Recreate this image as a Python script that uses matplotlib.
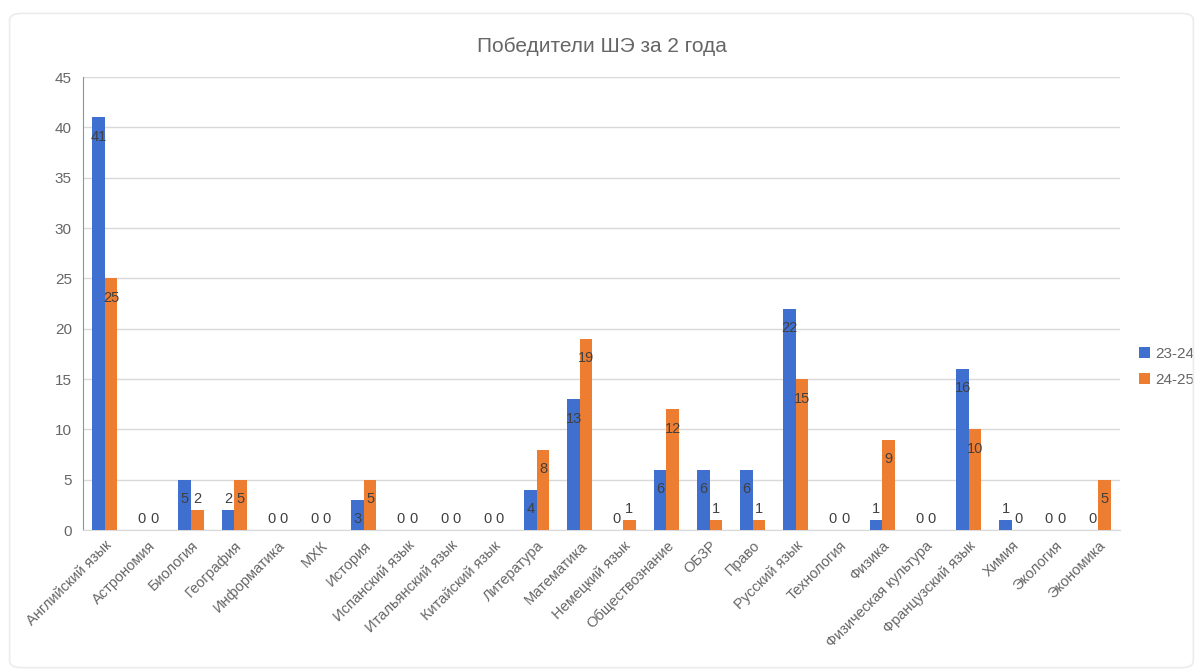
import matplotlib

matplotlib.use("Agg")
import matplotlib.pyplot as plt
from matplotlib.patches import FancyBboxPatch
import numpy as np

# --- data ---
SUBJECTS = [
    "Английский язык", "Астрономия", "Биология", "География", "Информатика",
    "МХК", "История", "Испанский язык", "Итальянский язык", "Китайский язык",
    "Литература", "Математика", "Немецкий язык", "Обществознание", "ОБЗР",
    "Право", "Русский язык", "Технология", "Физика", "Физическая культура",
    "Французский язык", "Химия", "Экология", "Экономика",
]
Y2324 = [41, 0, 5, 2, 0, 0, 3, 0, 0, 0, 4, 13, 0, 6, 6, 6, 22, 0, 1, 0, 16, 1, 0, 0]
Y2425 = [25, 0, 2, 5, 0, 0, 5, 0, 0, 0, 8, 19, 1, 12, 1, 1, 15, 0, 9, 0, 10, 0, 0, 5]
SERIES = ["23-24", "24-25"]
YTICKS = [0, 5, 10, 15, 20, 25, 30, 35, 40, 45]

BLUE = "#3f6fcf"
ORANGE = "#ed7d31"
TEXT = "#666666"
LABEL = "#404040"
GRID = "#d9d9d9"

plt.rcParams["font.family"] = ["Liberation Sans", "DejaVu Sans"]
fig = plt.figure(figsize=(12.03, 6.71), dpi=100, facecolor="white")

# faint chart-area frame
fig.patches.append(FancyBboxPatch((0.008, 0.005), 0.984, 0.975,
                                  boxstyle="round,pad=0,rounding_size=0.01",
                                  transform=fig.transFigure, facecolor="none",
                                  edgecolor="#ececec", linewidth=1.2))

ax = fig.add_axes([0.069, 0.210, 0.862, 0.675])

x = np.arange(len(SUBJECTS))
w = 0.29
b1 = ax.bar(x - w / 2, Y2324, width=w, color=BLUE, label=SERIES[0], zorder=3)
b2 = ax.bar(x + w / 2, Y2425, width=w, color=ORANGE, label=SERIES[1], zorder=3)


def put_labels(bars, vals):
    for r, v in zip(bars, vals):
        cx = r.get_x() + r.get_width() / 2
        if v >= 3:
            off = max(-14, -(v / 45) * 450 * 0.5)
            ax.annotate(str(v), (cx, v), xytext=(0, off), textcoords="offset points",
                        ha="center", va="center", fontsize=10.5, color=LABEL, zorder=4)
        else:
            ax.annotate(str(v), (cx, v), xytext=(0, 3), textcoords="offset points",
                        ha="center", va="bottom", fontsize=10.5, color=LABEL, zorder=4)


put_labels(b1, Y2324)
put_labels(b2, Y2425)

ax.set_xlim(-0.5, len(SUBJECTS) - 0.5)
ax.set_ylim(0, 45)
ax.set_yticks(YTICKS)
ax.grid(axis="y", color=GRID, linewidth=1, zorder=0)
ax.set_axisbelow(True)
for s in ("top", "right"):
    ax.spines[s].set_visible(False)
ax.spines["left"].set_color("#8a93a8")
ax.spines["bottom"].set_color(GRID)
ax.tick_params(axis="y", colors=TEXT, labelsize=11, length=0, pad=8)
ax.tick_params(axis="x", colors=TEXT, labelsize=10.5, length=0, pad=6)
ax.set_xticks(x)
ax.set_xticklabels(SUBJECTS, rotation=45, ha="right", rotation_mode="anchor")

fig.suptitle("Победители ШЭ за 2 года", fontsize=15, color=TEXT, y=0.945)

ax.legend(loc="center left", bbox_to_anchor=(1.005, 0.36), frameon=False,
          fontsize=11, labelcolor=TEXT, handlelength=0.7, handleheight=0.7,
          handletextpad=0.4, labelspacing=0.8)

fig.savefig("out.png", dpi=100, facecolor="white")
